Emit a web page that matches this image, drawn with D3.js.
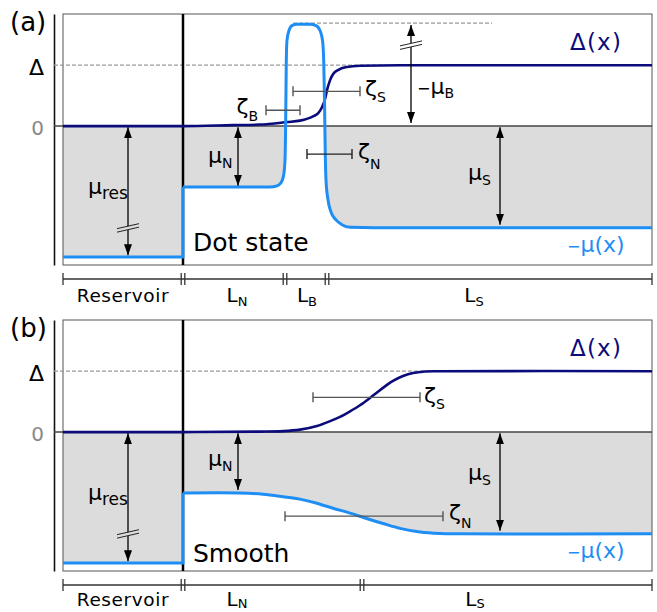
<!DOCTYPE html>
<html>
<head>
<meta charset="utf-8">
<script src="https://cdn.jsdelivr.net/npm/d3@7"></script>
<style>
  body { margin: 0; background: #fff; }
  svg text { font-family: "DejaVu Sans", sans-serif; }
</style>
</head>
<body>
<div id="chart"></div>
<script>
// x: length along the wire (0 = reservoir / N interface), y: energy in units of Δ
const regionEdgesA = [-120, 0, 102, 144, 469];
const regionNamesA = [["Reservoir", ""], ["L", "N"], ["L", "B"], ["L", "S"]];
const regionEdgesB = [-120, 0, 179, 469];
const regionNamesB = [["Reservoir", ""], ["L", "N"], ["L", "S"]];

const muRes = -2.15;      // -μ in the reservoir
const gapLevel = 1;       // Δ
const barrierTop = 1.69;  // -μ_B

// (a) dot state : -μ(x) and Δ(x)
const muXA = [0, 87, 94, 98, 100.5, 102, 102.7, 103.3, 104, 106, 109, 114, 127, 133, 137, 139.5, 140.7, 141.5, 142.2, 143, 145, 148, 153, 159, 167, 217, 469];
const muYA = [-1.0, -1.0, -0.98, -0.93, -0.82, -0.56, 0.10, 1.08, 1.41, 1.57, 1.65, 1.67, 1.67, 1.65, 1.57, 1.41, 1.08, 0.43, -0.39, -0.89, -1.21, -1.41, -1.54, -1.62, -1.66, -1.67, -1.67];
const gapXA = [-120, 0, 50, 77, 104, 117, 130, 135, 139, 142, 144, 147, 150, 155, 164, 177, 217, 469];
const gapYA = [0, 0, 0.016, 0.025, 0.066, 0.09, 0.16, 0.21, 0.31, 0.44, 0.59, 0.75, 0.85, 0.92, 0.97, 0.99, 1.0, 1.0];

// (b) smooth : -μ(x) and Δ(x)
const muXB = [0, 57, 80, 100, 117, 132, 150, 167, 182, 200, 217, 237, 257, 277, 469];
const muYB = [-1.0, -1.0, -1.02, -1.06, -1.10, -1.16, -1.25, -1.33, -1.41, -1.50, -1.58, -1.64, -1.665, -1.67, -1.67];
const gapXB = [-120, 0, 77, 100, 117, 134, 147, 157, 167, 177, 187, 194, 202, 210, 220, 230, 242, 257, 469];
const gapYB = [0, 0, 0.008, 0.016, 0.04, 0.1, 0.18, 0.25, 0.34, 0.44, 0.56, 0.65, 0.75, 0.84, 0.92, 0.97, 0.995, 1.0, 1.0];

// coherence lengths: [name, from, to, level]
const zetaA = [["B", 83, 117, 0.26], ["S", 110, 177, 0.57], ["N", 124, 169, -0.46]];
const zetaB = [["S", 130, 237, 0.57], ["N", 102, 260, -1.38]];

// double arrows: [main, sub, x, from, to, break level]
const arrowsA = [["μ", "res", -55, -0.02, -2.12, -1.70], ["μ", "N", 55, -0.02, -0.98, null],
                 ["μ", "S", 317, -0.02, -1.62, null], ["−μ", "B", 228, 0.05, 1.66, 1.30]];
const arrowsB = [["μ", "res", -55, -0.02, -2.12, -1.70], ["μ", "N", 55, -0.02, -0.95, null],
                 ["μ", "S", 317, -0.02, -1.62, null]];

const navy = "#0b0b7c", blue = "#1e8ef5", shade = "#dcdcdc";

const svg = d3.select("#chart").append("svg")
    .attr("width", 657)
    .attr("height", 612);

svg.append("defs").append("marker")
    .attr("id", "head")
    .attr("viewBox", "0 0 11 8")
    .attr("refX", 11).attr("refY", 4)
    .attr("markerWidth", 11).attr("markerHeight", 8)
    .attr("markerUnits", "userSpaceOnUse")
    .attr("orient", "auto-start-reverse")
    .append("path").attr("d", "M0,0L11,4L0,8Z").attr("fill", "#000");

var x = d3.scaleLinear().domain([-120, 469]).range([63, 652]);

function label(g, px, py, main, sub, o) {
    o = o || {};
    var t = g.append("text")
        .attr("x", px).attr("y", py)
        .attr("font-size", o.size || 21)
        .attr("fill", o.color || "#000")
        .attr("text-anchor", o.anchor || "start");
    if (main[0] == "−") {
        t.append("tspan").attr("font-size", 16).text("−");
        main = main.slice(1);
    }
    t.append("tspan").text(main);
    if (sub) t.append("tspan").attr("font-size", o.subSize || 14).attr("dy", o.subDy || 6).text(sub);
    return t;
}

function panel(p) {
    var top = p.top;
    var y = d3.scaleLinear().domain([-2.28, 1.84]).range([top + 251, top]);
    var g = svg.append("g");
    var pts = d3.zip(p.muX, p.muY);
    var gap = d3.zip(p.gapX, p.gapY);

    // shaded occupied states (below 0 and above -μ)
    g.append("clipPath").attr("id", "below" + p.id)
        .append("rect")
        .attr("x", x(-120)).attr("y", y(0))
        .attr("width", x(469) - x(-120)).attr("height", y(-2.28) - y(0));
    g.append("rect")
        .attr("x", x(-120)).attr("y", y(0))
        .attr("width", x(0) - x(-120)).attr("height", y(muRes) - y(0))
        .attr("fill", shade);
    g.append("path")
        .attr("clip-path", "url(#below" + p.id + ")")
        .attr("d", d3.area().curve(p.curve)
            .x(function (d) { return x(d[0]); })
            .y0(y(0))
            .y1(function (d) { return y(d[1]); })(pts))
        .attr("fill", shade);

    // frame
    g.append("rect")
        .attr("x", x(-120)).attr("y", y(1.84))
        .attr("width", x(469) - x(-120)).attr("height", y(-2.28) - y(1.84))
        .attr("fill", "none").attr("stroke", "#555").attr("stroke-width", 1);

    // left axis with 0 and Δ
    var axis = g.append("g")
        .attr("transform", "translate(54,0)")
        .call(d3.axisLeft(y).tickValues([0, gapLevel]).tickSize(0).tickSizeOuter(0).tickPadding(10)
            .tickFormat(function (d) { return d ? "Δ" : "0"; }));
    axis.select(".domain").attr("stroke", "#111").attr("stroke-width", 1.6);
    axis.selectAll("text")
        .attr("font-family", "DejaVu Sans")
        .attr("font-size", function (d) { return d ? 22 : 20; })
        .attr("fill", function (d) { return d ? "#000" : "#888"; })
        .attr("dy", function (d) { return d ? "0.42em" : "0.4em"; });

    // Δ level (dashed) and zero level
    g.append("line")
        .attr("x1", 54).attr("x2", x(469))
        .attr("y1", y(gapLevel)).attr("y2", y(gapLevel))
        .attr("stroke", "#999").attr("stroke-width", 1.1).attr("stroke-dasharray", "4,2");
    if (p.barrier) {
        g.append("line")
            .attr("x1", x(110)).attr("x2", x(309))
            .attr("y1", y(barrierTop)).attr("y2", y(barrierTop))
            .attr("stroke", "#999").attr("stroke-width", 1.1).attr("stroke-dasharray", "4,2");
    }
    g.append("line")
        .attr("x1", 54).attr("x2", x(469))
        .attr("y1", y(0)).attr("y2", y(0))
        .attr("stroke", "#444").attr("stroke-width", 1.5);

    // reservoir / wire interface
    g.append("line")
        .attr("x1", x(0)).attr("x2", x(0))
        .attr("y1", y(1.84)).attr("y2", y(-2.28))
        .attr("stroke", "#000").attr("stroke-width", 2.5);

    // Δ(x)
    g.append("path")
        .attr("d", d3.line().curve(p.curve)
            .x(function (d) { return x(d[0]); })
            .y(function (d) { return y(d[1]); })(gap))
        .attr("fill", "none").attr("stroke", navy).attr("stroke-width", 2.6);

    // -μ(x)
    g.append("path")
        .attr("d", d3.line()([[x(-120), y(muRes)], [x(0), y(muRes)], [x(0), y(p.muY[0])]]))
        .attr("fill", "none").attr("stroke", blue).attr("stroke-width", 3);
    g.append("path")
        .attr("d", d3.line().curve(p.curve)
            .x(function (d) { return x(d[0]); })
            .y(function (d) { return y(d[1]); })(pts))
        .attr("fill", "none").attr("stroke", blue).attr("stroke-width", 3);

    // coherence length bars
    p.zeta.forEach(function (z, i) {
        var c = z[0] == "N" && p.id == "a" ? "#222" : "#555";
        var yy = y(z[3]);
        g.append("path")
            .attr("d", "M" + x(z[1]) + "," + (yy - 5) + "V" + (yy + 5) +
                "M" + x(z[1]) + "," + yy + "H" + x(z[2]) +
                "M" + x(z[2]) + "," + (yy - 5) + "V" + (yy + 5))
            .attr("fill", "none").attr("stroke", c).attr("stroke-width", 1.4);
        var o = p.zetaLab[i];
        label(g, (o[0] < 0 ? x(z[1]) : x(z[2])) + o[0], yy + o[1], "ζ", z[0],
            { size: 22, anchor: o[0] < 0 ? "end" : "start", subDy: o[2] });
    });

    // double arrows
    p.arrows.forEach(function (a, i) {
        var ax = x(a[2]);
        g.append("line")
            .attr("x1", ax).attr("x2", ax)
            .attr("y1", y(a[3])).attr("y2", y(a[4]))
            .attr("stroke", "#000").attr("stroke-width", 1.3)
            .attr("marker-start", "url(#head)").attr("marker-end", "url(#head)");
        if (a[5] != null) {
            var yb = y(a[5]);
            var bg = a[5] < 0 ? shade : "#fff";
            g.append("path")
                .attr("d", "M" + (ax - 4) + "," + (yb + 1) + "L" + (ax + 4) + "," + (yb - 1) +
                    "L" + (ax + 4) + "," + (yb - 4.5) + "L" + (ax - 4) + "," + (yb - 2.5) + "Z")
                .attr("fill", bg);
            [0, -3.5].forEach(function (off) {
                g.append("line")
                    .attr("x1", ax - 11).attr("y1", yb + 2.5 + off)
                    .attr("x2", ax + 11).attr("y2", yb - 2.5 + off)
                    .attr("stroke", "#222").attr("stroke-width", 1);
            });
        }
        var o = p.arrowLab[i];
        label(g, ax + o[0], o[1] + top, a[0], a[1], { size: 22, subSize: a[1] == "res" ? 17 : 14, subDy: o[2] });
    });

    // length scale below the panel
    var sy = top + 265;
    g.append("line")
        .attr("x1", x(-120)).attr("x2", x(469))
        .attr("y1", sy).attr("y2", sy)
        .attr("stroke", "#333").attr("stroke-width", 1.3);
    p.edges.forEach(function (e, i) {
        var offs = (i == 0 || i == p.edges.length - 1) ? [0] : [-1.8, 1.8];
        offs.forEach(function (o) {
            g.append("line")
                .attr("x1", x(e) + o).attr("x2", x(e) + o)
                .attr("y1", sy - 6).attr("y2", sy + 6)
                .attr("stroke", "#333").attr("stroke-width", 1.3);
        });
    });
    p.names.forEach(function (n, i) {
        var t = label(g, x(p.nameX[i]), sy + p.nameDy, n[0], n[1],
            { size: n[1] ? 20 : 18.5, subSize: 13, subDy: p.nameSub, anchor: "middle" });
        if (!n[1]) t.attr("letter-spacing", 0.6);
    });

    // panel texts
    svg.append("text")
        .attr("x", 10).attr("y", top + 17)
        .attr("font-family", "Liberation Sans").attr("font-size", 26)
        .text(p.tag);
    svg.append("text")
        .attr("x", 193).attr("y", p.titleY)
        .attr("font-family", "Liberation Sans").attr("font-size", 25)
        .text(p.title);
    svg.append("text")
        .attr("x", 570).attr("y", top + 36)
        .attr("font-size", 23).attr("letter-spacing", 1.2).attr("fill", navy)
        .text("Δ(x)");
    label(svg, 567, top + 238, "−μ(x)", "", { size: 22, color: blue });
}

panel({
    id: "a", top: 14, tag: "(a)", title: "Dot state", titleY: 251, barrier: true,
    curve: d3.curveMonotoneX,
    muX: muXA, muY: muYA, gapX: gapXA, gapY: gapYA,
    zeta: zetaA, zetaLab: [[-8, 4, 7], [5, 5, 6], [6, 5, 10]],
    arrows: arrowsA, arrowLab: [[-40, 180, 5], [-30, 149, 5], [-32, 166, 5], [6, 80, 4]],
    edges: regionEdgesA, names: regionNamesA, nameX: [-60, 54, 124, 291], nameDy: 23, nameSub: 4
});
panel({
    id: "b", top: 320, tag: "(b)", title: "Smooth", titleY: 562, barrier: false,
    curve: d3.curveCatmullRom.alpha(0.5),
    muX: muXB, muY: muYB, gapX: gapXB, gapY: gapYB,
    zeta: zetaB, zetaLab: [[4, 6, 6], [6, 4, 8]],
    arrows: arrowsB, arrowLab: [[-40, 180, 5], [-30, 146, 5], [-32, 160, 5]],
    edges: regionEdgesB, names: regionNamesB, nameX: [-60, 54, 292], nameDy: 21, nameSub: 2
});
</script>
</body>
</html>
